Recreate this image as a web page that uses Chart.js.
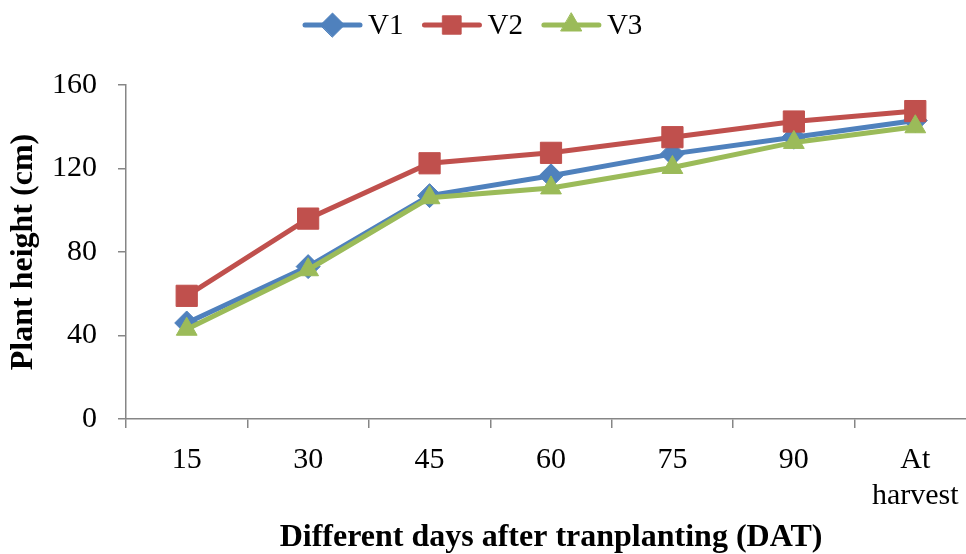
<!DOCTYPE html>
<html>
<head>
<meta charset="utf-8">
<script src="https://cdn.jsdelivr.net/npm/chart.js@4.4.0/dist/chart.umd.min.js"></script>
<style>
  html, body { margin: 0; padding: 0; background: #fff; overflow: hidden; }
  canvas { position: absolute; left: 0; top: 0; }
</style>
</head>
<body>
<canvas id="heightChart" width="992" height="554"></canvas>
<script>
// plant height by growth stage, three varieties
const stages = ['15', '30', '45', '60', '75', '90', ['At', 'harvest']];
const v1 = [46, 73, 107, 116.5, 127, 135, 143];
const v2 = [59, 96, 122.5, 127.5, 135, 142.5, 147.5];
const v3 = [43, 71.5, 106, 110.7, 120.5, 132.5, 140];
const yTicks = [0, 40, 80, 120, 160];

const AXIS_GREY = '#868686';
const SERIF = "'Liberation Serif', 'Times New Roman', serif";

function series(label, values, color, style, radius, order) {
  return {
    label: label,
    data: values,
    borderColor: color,
    backgroundColor: color,
    borderWidth: 5,
    pointStyle: style,
    pointRadius: radius,
    pointBorderWidth: 1,
    pointBorderColor: color,
    pointBackgroundColor: color,
    tension: 0,
    order: order
  };
}

// legend drawn by hand so it can sit left of the plot centre
const legendPlugin = {
  id: 'topLegend',
  afterDraw(chart) {
    const ctx = chart.ctx;
    let x = 305;
    const y = 25;
    ctx.save();
    ctx.font = '29px ' + SERIF;
    ctx.textBaseline = 'middle';
    chart.data.datasets.forEach(ds => {
      ctx.strokeStyle = ds.borderColor;
      ctx.fillStyle = ds.borderColor;
      ctx.lineWidth = 5;
      ctx.lineCap = 'round';
      ctx.beginPath();
      ctx.moveTo(x, y);
      ctx.lineTo(x + 55, y);
      ctx.stroke();
      ctx.lineWidth = 1;
      Chart.helpers.drawPoint(ctx, {
        pointStyle: ds.pointStyle,
        radius: ds.pointStyle === 'rect' ? 13 : ds.pointRadius,
        rotation: 0,
        borderWidth: 1
      }, x + 27.5, y);
      ctx.fillStyle = '#000';
      ctx.fillText(ds.label, x + 63, y + 1);
      x += 63 + ctx.measureText(ds.label).width + 21;
    });
    ctx.restore();
  }
};

new Chart(document.getElementById('heightChart'), {
  type: 'line',
  data: {
    labels: stages,
    datasets: [
      series('V1', v1, '#4F81BD', 'rectRot', 12, 2),
      series('V2', v2, '#C0504D', 'rect', 15, 1),
      series('V3', v3, '#9BBB59', 'triangle', 12, 0)
    ]
  },
  options: {
    responsive: false,
    animation: false,
    layout: { padding: { top: 85, right: 5, bottom: 0, left: 0 } },
    plugins: {
      legend: { display: false },
      tooltip: { enabled: false }
    },
    scales: {
      x: {
        offset: true,
        afterFit(scale) { scale.height = 135; },
        border: { color: AXIS_GREY, width: 1.5 },
        grid: {
          offset: true,
          drawOnChartArea: false,
          drawTicks: true,
          tickLength: 9,
          color: AXIS_GREY,
          lineWidth: 1.5
        },
        ticks: {
          color: '#000',
          padding: 14,
          maxRotation: 0,
          autoSkip: false,
          font: { family: SERIF, size: 30, lineHeight: 1.2 }
        },
        title: {
          display: true,
          text: 'Different days after tranplanting (DAT)',
          color: '#000',
          padding: 0,
          font: { family: SERIF, size: 32, weight: 'bold', lineHeight: 1 }
        }
      },
      y: {
        min: 0,
        max: 160,
        afterFit(scale) { scale.width = 126; },
        afterBuildTicks(scale) { scale.ticks = yTicks.map(v => ({ value: v })); },
        border: { color: AXIS_GREY, width: 1.5 },
        grid: {
          drawOnChartArea: false,
          drawTicks: true,
          tickLength: 8,
          color: AXIS_GREY,
          lineWidth: 1.5
        },
        ticks: {
          color: '#000',
          padding: 21,
          font: { family: SERIF, size: 30 }
        },
        title: {
          display: true,
          text: 'Plant height (cm)',
          color: '#000',
          padding: { top: 8, bottom: 0 },
          font: { family: SERIF, size: 32, weight: 'bold', lineHeight: 1 }
        }
      }
    }
  },
  plugins: [legendPlugin]
});
</script>
</body>
</html>
